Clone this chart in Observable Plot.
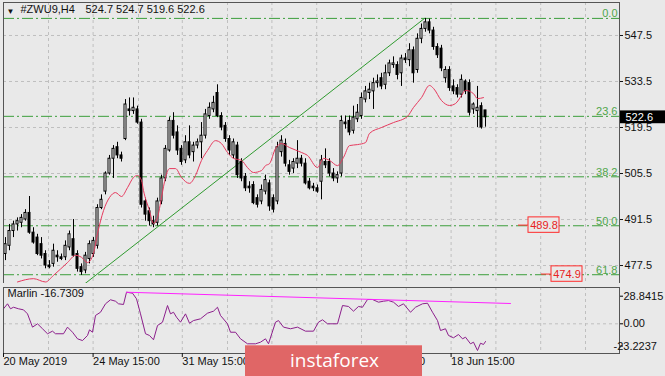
<!DOCTYPE html>
<html><head><meta charset="utf-8">
<script src="https://cdn.jsdelivr.net/npm/d3@7"></script>
<script src="https://cdn.jsdelivr.net/npm/@observablehq/plot@0.6"></script>
<style>
html,body{margin:0;padding:0;background:#e9e9e9;}
#wrap{position:relative;width:665px;height:376px;overflow:hidden;background:#e9e9e9;font-family:"Liberation Sans",Arial,sans-serif;}
#main,#sub{position:absolute;left:0;}
#main{top:0;}
#sub{top:283px;}
#sep{position:absolute;left:3px;top:283px;width:616px;height:4px;background:#727272;}
#wm{position:absolute;left:245px;top:345px;width:177px;height:31px;background:#e06666;color:#fff;font-family:"Open Sans",sans-serif;font-size:19px;line-height:29px;box-sizing:border-box;padding-left:45px;border-top:1px solid #ea8a8a;}
</style></head>
<body><div id="wrap"><div id="main"></div><div id="sep"></div><div id="sub"></div><div id="wm">instaforex</div></div>
<script>
// ---- data ----
const symbol = "#ZWU9,H4";
const open  = [481,483.5,488,490,490.5,491.5,493.5,487.5,486,484,481,477.5,478,480.5,480,480,483,485.5,481,477,476,479.5,481,483.5,495,500,505.5,510,513.5,511,516,525,524.5,525,521,497,494,491,490.5,497,504,512.5,521.5,518,513,509.5,515,512,514,515,517,523,525,530,523,520,516,511,514,509,504.5,501.5,502,498,497,500,502.5,498,497,512,514.5,508,507,508.5,510,508.5,503,501.5,501,503,509,509,505.5,504,505.5,521,521.5,518.5,522,523,528,530,530.5,533,534.5,532.5,536,538.5,538.5,536,540.5,540,543,537,546.5,549.5,551.5,549,544,543.5,534.5,537,532,531.5,529.5,533.5,533,525,524.5,526,524.7];
const high  = [486,490,491,492,493,494.5,498.5,489,487,486,482,479,484,482,481,485,488,491.5,482,478,481.5,485,486,496,499,506,511,514,515,512,528,528.5,528.5,526,522,498,495,492.5,498,505,514,522.5,524,520,514,517,520,515,516,521,525,527,529,532.5,524,521,517,516,515,510,505.5,503,503,499,502,505,503.5,499,515,517,516,509.5,510,515.5,511,510,504,502.5,502,511,513,510,507,506,523,523,523,526,526.5,530,532,533,534.5,535.5,536,538.5,540,541,539.5,541.5,542,545,544,548,551,552.7,552.5,550,545,544.5,538,538,534,532.5,535.5,534,534,527,532,527,524.7];
const low   = [479,482,486,488,489,491,487,484,480.5,479.5,476.5,476.5,477,478.5,479,479,482,480,475.5,474.5,475,478,480,482.5,494.5,499,505,504,510,509,515.5,523,523.5,520.5,495,491,489.5,489,489.5,496,503,512,516,511,508,508.5,510,509,513,510,516,522,524,522.5,518.5,515,511,510,504,503,500,499.5,496,495,496,499,494,493.5,496,510.5,507.5,505,505.5,507,507.5,502,500.5,500,499.5,497.5,507,504.5,503,502.5,504.5,519,517,517.5,521,522,527,528,525,531.5,531,531,535,537.5,534,532,539,538,533,536,545,548.5,548,543,540.5,536.5,533,530.5,529.5,528.5,528.5,529.5,523,523.5,519.5,519,519.6];
const close = [484,488,490,491,492,493.5,487.5,484.5,481,480.5,477.5,477,482,480,479.5,483.5,487,480.5,476.5,475.5,480.5,484,485,495,497.5,505.5,510,513,511,510,526.5,524.5,525.5,521,496,493,491,490,497,504,513,521.5,517,512.5,509,515,511,514,515,517,523.5,525.5,527,523,519.5,516,512.5,515,505,504,501,501,496.5,496,500.5,503.5,495.5,494.5,513.5,515.5,508.5,506,509,510,508.5,502.5,501,501,500,509.5,508,505.5,504,505,521.5,520.5,518,522.5,524,528.5,530.5,531,533,533.5,532,536,539,539,535.5,540.5,540,543,536,546.5,549.5,551.5,549,544,541.5,537.5,537,531.5,530.5,529.5,534,530.5,524,526.5,525.5,519.5,522.6];

const maBar   = [3,7,10,12,15.5,17.5,19,20.5,22,23,24.5,26,27.5,29,30.5,32,33,34,34.5,36,37,38,39,40,41,42.5,44,46,47.5,49,50.5,52.5,54,55.5,57,59,60.5,62,64,65,66,67.5,69,71,74,75.5,78,79.5,81,83,84.5,86,88,90,91,94,97,100.5,102,104,106,107,109,111,112.5,114,115,117,118,119.5];
const maPrice = [472.5,473.5,472.5,474.5,478.4,480.6,480.0,478.4,481.2,487.2,494.2,498.2,499.7,498.5,501.2,504.3,504.9,503.4,500.3,494.2,490.3,492.1,498.2,504.3,507.0,507.0,504.3,502.5,504.9,509.5,512.5,515.5,514.6,511.9,510.1,509.5,507.3,505.8,506.4,507.9,508.5,513.1,514.6,513.4,511.9,511.0,507.3,510.1,509.5,507.9,510.4,514.0,514.3,514.9,517.7,519.5,521.0,522.9,525.6,528.6,532.3,531.4,527.7,526.2,526.8,529.2,530.8,529.8,528.3,528.6];

const trendBar = [19.25, 104.75];
const trendPrice = [471.4, 552.7];

const fibLabel = ["0.0","23.6","38.2","50.0","61.8"];
const fibPrice = [552.7, 522.9, 504.5, 489.6, 474.7];

const targetPrice = [489.8, 474.9];
const targetBar = [130.75, 136.5];

const priceTicks = [547.5, 533.5, 519.5, 505.5, 491.5, 477.5];
const gridBars = [10.75, 21.9, 33.25, 44.2, 55.5, 66.6, 77.8, 89, 100.2, 111.4, 122.6, 133.8, 145];
const dateBar  = [-0.5, 21.9, 44.2, 66.6, 89, 111.4];
const dateText = ["20 May 2019","24 May 15:00","31 May 15:00","7 Jun 15:00","13 Jun 15:00","18 Jun 15:00"];

const marlinName = "Marlin";
const marlinLast = -16.7309;
const marlinBar = [-0.5,0.5,1.25,2,3.25,4.5,5.5,6.75,8,9.25,10.5,11.75,12.5,14.5,15.5,16.75,18,19.25,20.5,21,21.75,22.5,23.75,25,26.25,27.5,28.25,29.5,30.25,31.75,32.75,33.75,35,36,37,38,39.25,40.5,41.25,42,42.75,43.75,45,46,47,48.75,50.5,52,53,53.75,55.5,56.25,57.5,58.75,60.5,62.5,63.75,65,65.75,67.5,68.25,69.5,71.25,73,75,77,78.25,79.25,80.5,83,84.25,85.75,87,88.25,89.25,90.5,91.75,93.25,94.5,95.75,97,98.25,99.5,101.25,102.5,104.25,105.5,106.75,108,108.75,110,110.75,112,113.25,114.25,115,116.25,117,118,118.75,119.5,120];
const marlinVal = [15.7,20.9,15.7,17.3,15.7,14.6,10.4,-3.5,0,-5.2,-10.4,-7.7,-10.4,-10.4,-3.5,-8.8,-15.7,-17.5,-12.2,-6.3,-8.8,8.7,12.1,20.9,25.1,23.6,20.9,20.2,33.0,32.0,26.1,10.4,-10.4,-12.2,-16.7,-1.8,1.7,19.1,10.4,12.1,6.9,1.7,10.4,0.6,3.4,5.2,11.1,13.2,17.3,8.7,0,-8.8,-8.8,-15.7,-20.9,-20.9,-19.2,-15.7,-20.9,1.7,3.4,-3.5,-5.2,-3.5,-7.7,-7.7,1.7,4.2,0,0,19.1,18.1,13.2,18.1,17.3,25.4,25.4,22.6,23.6,24.3,22.6,18.1,20.9,12.1,17.3,20.9,21.5,12.1,3.4,-7.0,-5.2,-12.2,-14.6,-11.2,-15.7,-14.0,-20.9,-19.2,-27.9,-20.3,-21.6,-18.5];
const magBar = [30.25, 126.25];
const magVal = [33.0, 21.2];
const oscTicks = [28.8415, 0, -23.2237];
const oscText  = ["28.8415", "0.00", "-23.2237"];

// ---- build ----
const BG = "#e9e9e9";
const FONT = "Liberation Sans, Arial, sans-serif";
const xDomain = [-0.5, 153.5];
const n = close.length - 1;
const candles = close.map((c, i) => ({i, o: open[i], h: high[i], l: low[i], c}));
const zip = (a, b) => a.slice(0, Math.min(a.length, b.length)).map((x, k) => ({x, y: b[k]}));
const ma = zip(maBar, maPrice);
const trend = zip(trendBar, trendPrice);
const fibs = fibPrice.map((p, k) => ({p, t: fibLabel[k]}));
const targets = targetPrice.map((p, k) => ({p, b: targetBar[k]}));
const marlin = zip(marlinBar, marlinVal);
const mag = zip(magBar, magVal);
const grid = {stroke: "#bfbfbf", strokeDasharray: "3,3"};
const hdr = `${open[n].toFixed(1)} ${high[n].toFixed(1)} ${low[n].toFixed(1)} ${close[n].toFixed(1)}`;

const main = Plot.plot({
  width: 665, height: 285,
  marginLeft: 3, marginRight: 46, marginTop: 2, marginBottom: 2,
  style: {background: BG, fontFamily: FONT, fontSize: "11px", overflow: "visible"},
  x: {domain: xDomain, axis: null, label: null},
  y: {domain: [472.03, 557.54], axis: null, label: null},
  marks: [
    Plot.ruleY(priceTicks, grid),
    Plot.ruleX(gridBars, grid),
    Plot.ruleY(fibs, {y: "p", stroke: "#3c9e3c", strokeDasharray: "11,3,2,3"}),
    Plot.text(fibs, {x: xDomain[1], y: "p", text: "t", textAnchor: "end", lineAnchor: "bottom", dx: -2, dy: -1, fill: "#4fa64a", fontSize: 11}),
    Plot.line(trend, {x: "x", y: "y", stroke: "#2f9a2f", strokeWidth: 1, clip: true}),
    Plot.ruleX(candles, {x: "i", y1: "l", y2: "h", stroke: "#000", strokeWidth: 1}),
    Plot.rect(candles, {x1: d => d.i - 0.25, x2: d => d.i + 0.25, y1: "o", y2: d => d.c === d.o ? d.c + 0.15 : d.c,
      fill: d => d.c >= d.o ? "#fff" : "#000", stroke: "#000", strokeWidth: 1}),
    Plot.line(ma, {x: "x", y: "y", stroke: "#e63a5e", strokeWidth: 1, curve: "monotone-x"}),
    Plot.ruleY(targets, {y: "p", x1: d => d.b - 2.5, x2: "b", stroke: "#ff2b2b"}),
    Plot.rect(targets, {x1: "b", x2: d => d.b + 7.75, y1: d => d.p - 2.35, y2: d => d.p + 2.35, fill: BG, stroke: "#ff2b2b"}),
    Plot.text(targets, {x: d => d.b + 3.875, y: "p", text: d => d.p.toFixed(1), fill: "#e82222", fontSize: 11}),
    Plot.frame({stroke: "#555"}),
    Plot.axisY(priceTicks, {anchor: "right", label: null, tickSize: 3, tickPadding: 2, tickFormat: d => d.toFixed(1), fontSize: 11, color: "#111"}),
    Plot.rect([close[n]], {x1: xDomain[1] + 0.25, x2: xDomain[1] + 12, y1: d => d - 1.95, y2: d => d + 1.95, fill: "#000"}),
    Plot.text([close[n]], {x: xDomain[1], y: d => d, text: d => d.toFixed(1), textAnchor: "start", dx: 6, fill: "#fff", fontSize: 11}),
    Plot.text(["\u25BC"], {frameAnchor: "top-left", dx: 3, dy: 6, lineAnchor: "top", fontSize: 8, fill: "#111"}),
    Plot.text([symbol], {frameAnchor: "top-left", dx: 17, dy: 3, lineAnchor: "top", fontSize: 11, fill: "#111", textAnchor: "start"}),
    Plot.text([hdr], {frameAnchor: "top-left", dx: 82, dy: 3, lineAnchor: "top", fontSize: 11, fill: "#111", textAnchor: "start"})
  ]
});
document.getElementById("main").appendChild(main);

const labelMap = new Map(dateBar.map((b, k) => [b, dateText[k]]));
const sub = Plot.plot({
  width: 665, height: 93,
  marginLeft: 3, marginRight: 46, marginTop: 4, marginBottom: 23,
  style: {background: BG, fontFamily: FONT, fontSize: "11px", overflow: "visible"},
  x: {domain: xDomain, axis: null, label: null},
  y: {domain: [-31.03, 37.93], axis: null, label: null},
  marks: [
    Plot.ruleX(gridBars, grid),
    Plot.ruleY([0], grid),
    Plot.line(marlin, {x: "x", y: "y", stroke: "#8c1f8c", strokeWidth: 1}),
    Plot.line(mag, {x: "x", y: "y", stroke: "#ff22ff", strokeWidth: 1}),
    Plot.text([`${marlinName} ${marlinLast}`], {frameAnchor: "top-left", dx: 4, dy: 2, lineAnchor: "top", fontSize: 11, fill: "#111", textAnchor: "start"}),
    Plot.frame({stroke: "#555"}),
    Plot.axisY(oscTicks, {anchor: "right", label: null, tickSize: 3, tickFormat: () => ""}),
    Plot.text(oscTicks.filter(v => v >= 0), {frameAnchor: "right", y: d => d, text: d => oscText[oscTicks.indexOf(d)], textAnchor: "start", dx: 4, fontSize: 11, fill: "#111"}),
    Plot.text(oscTicks.filter(v => v < 0), {frameAnchor: "right", y: d => d, text: d => oscText[oscTicks.indexOf(d)], textAnchor: "start", dx: -6, fontSize: 11, fill: "#111"}),
    Plot.axisX(dateBar, {anchor: "bottom", label: null, tickSize: 4, tickPadding: 0, tickFormat: d => labelMap.get(d), textAnchor: "start", fontSize: 11, color: "#111"})
  ]
});
document.getElementById("sub").appendChild(sub);
</script></body></html>
